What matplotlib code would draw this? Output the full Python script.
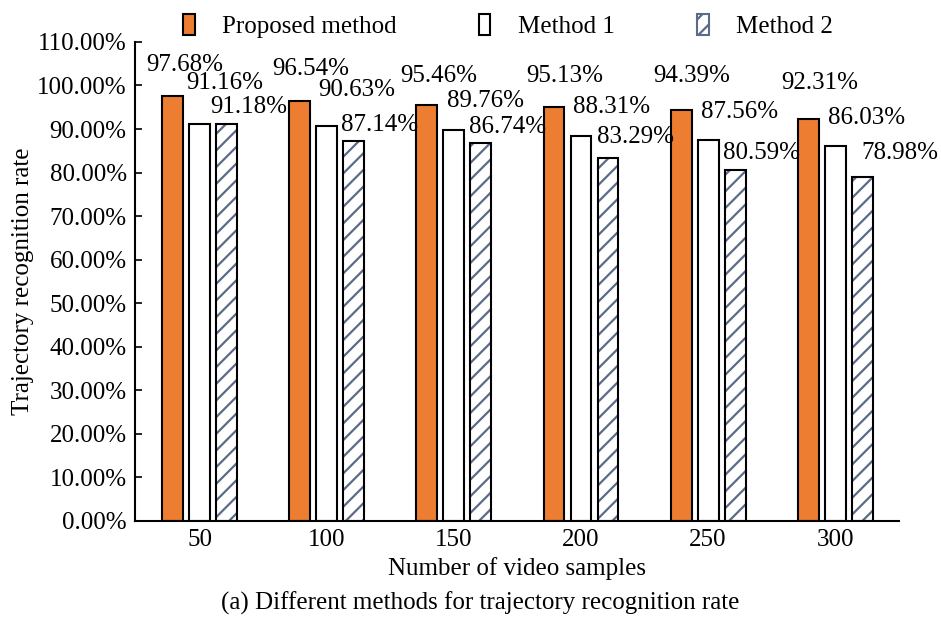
import numpy as np
import matplotlib.pyplot as plt
from matplotlib.ticker import FuncFormatter
from matplotlib.patches import Patch

plt.rcParams['font.family'] = ['Liberation Serif', 'DejaVu Serif']
plt.rcParams['hatch.linewidth'] = 1.6

samples = ['50', '100', '150', '200', '250', '300']
proposed = [97.68, 96.54, 95.46, 95.13, 94.39, 92.31]
method1 = [91.16, 90.63, 89.76, 88.31, 87.56, 86.03]
method2 = [91.18, 87.14, 86.74, 83.29, 80.59, 78.98]
series_names = ['Proposed method', 'Method 1', 'Method 2']

# label offsets from bar top centre, in pixels (layout only)
label_dx = [[11.5, 11, 12, 11, 11, 12],
            [24.6, 30, 32, 31, 31, 31.5],
            [22, 26, 27, 27, 26, 37.5]]
label_dy = [[31, 31.6, 29, 30.7, 34, 36],
            [41, 36, 29, 29, 28, 28],
            [17, 16.5, 16, 21, 17, 24]]

fig = plt.figure(figsize=(9.41, 6.17), dpi=100)
ax = fig.add_axes([0.1435, 0.1556, 0.8115, 0.7765])

x = np.arange(len(samples))
w = 0.165
step = 0.2125

ax.bar(x - step, proposed, w, color='#ED7D31', edgecolor='black', linewidth=1.5, zorder=2)
ax.bar(x, method1, w, color='white', edgecolor='black', linewidth=1.5, zorder=2)
# hatch drawn in a blue-grey, then black outline on top
ax.bar(x + step, method2, w, color='white', edgecolor='#5b6b88', hatch='//', linewidth=0, zorder=2)
ax.bar(x + step, method2, w, color='none', edgecolor='black', linewidth=1.5, zorder=3)

for k, (vals, xs) in enumerate(zip([proposed, method1, method2], [x - step, x, x + step])):
    for i, (xi, v) in enumerate(zip(xs, vals)):
        ax.annotate(f'{v:.2f}%', (xi, v), xytext=(label_dx[k][i] * 0.72, label_dy[k][i] * 0.72),
                    textcoords='offset points', ha='center', va='center', fontsize=18, clip_on=False)

ax.set_xlim(-0.51, 5.50)
ax.set_ylim(0, 110)
ax.set_yticks(np.arange(0, 111, 10))
ax.yaxis.set_major_formatter(FuncFormatter(lambda v, p: f'{v:.2f}%'))
ax.set_xticks(x)
ax.set_xticklabels(samples)
ax.tick_params(axis='x', length=0, pad=6, labelsize=18)
ax.tick_params(axis='y', direction='in', length=5, width=1.2, labelsize=18, pad=6)
for s in ['top', 'right']:
    ax.spines[s].set_visible(False)
for s in ['left', 'bottom']:
    ax.spines[s].set_linewidth(1.5)

ax.set_ylabel('Trajectory recognition rate', fontsize=18, labelpad=2)
ax.set_xlabel('Number of video samples', fontsize=18, labelpad=4)
fig.text(0.51, 0.0227, '(a) Different methods for trajectory recognition rate', ha='center', va='center', fontsize=18)

handles = [Patch(facecolor='#ED7D31', edgecolor='black', linewidth=1.5),
           Patch(facecolor='white', edgecolor='black', linewidth=1.5),
           Patch(facecolor='white', edgecolor='#5b6b88', hatch='//', linewidth=1.5)]
fig.legend(handles, series_names, ncol=3, loc='center', bbox_to_anchor=(0.54, 0.958), frameon=False,
           fontsize=18, handlelength=0.45, handleheight=0.9, handletextpad=1.1, columnspacing=3.3)

fig.savefig('out.png', dpi=100)
